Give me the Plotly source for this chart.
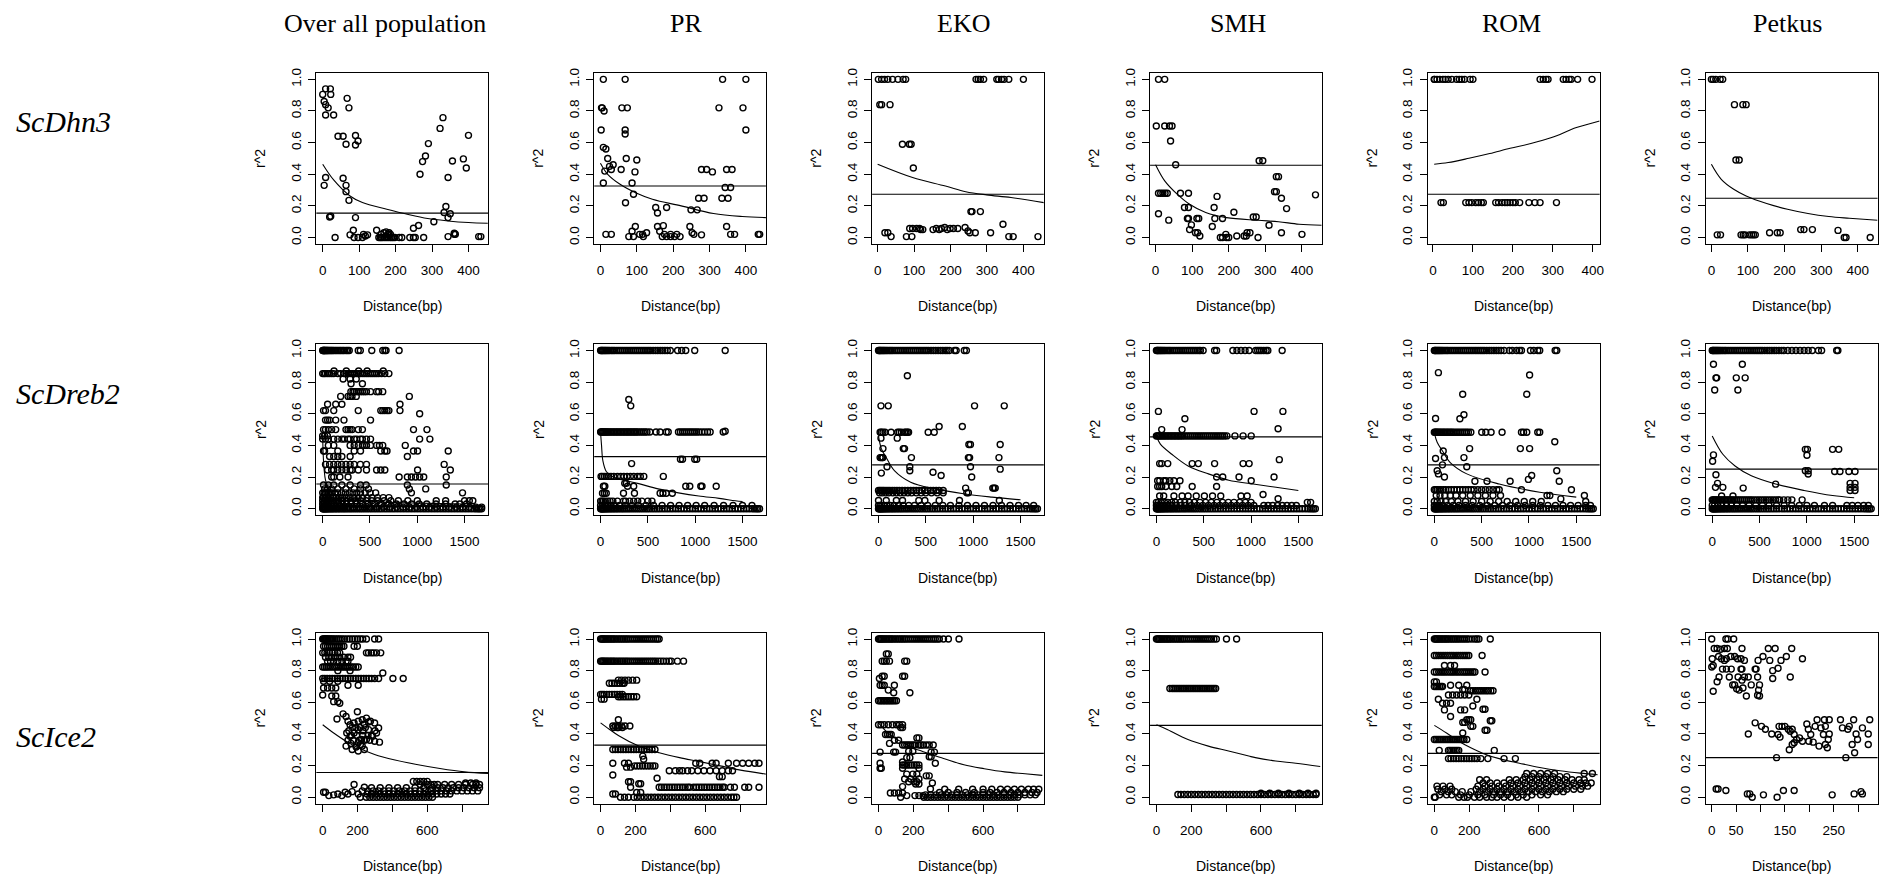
import plotly.graph_objects as go

# ---------------- layout constants (pixels in the 1899x882 canvas) ----------------
W, H = 1899, 882
COL_LEFT = [317, 595.5, 874, 1152.5, 1431, 1709.5]
ROW_TOP = [68.5, 341.5, 632]
BOX_W, BOX_H = 172, 172

COL_TITLES = ["Over all population", "PR", "EKO", "SMH", "ROM", "Petkus"]
COL_TITLE_X = [386, 687, 966, 1241, 1515, 1791]
ROW_LABELS = ["ScDhn3", "ScDreb2", "ScIce2"]
ROW_LABEL_Y = [117, 391, 737]

# ---------------- data: (r^2, [distances]) groups, curve x/y, horizontal line ----------------
LONG_ZERO = [0, 6, 12, 20, 28, 36, 45, 55, 66, 78, 90, 104, 118, 133, 148, 164, 180, 198, 216, 234, 252,
             272, 292, 312, 334, 356, 378, 400, 422, 446, 470, 494, 518, 544, 570, 596, 622, 650, 678, 706,
             734, 762, 792, 822, 852, 882, 912, 942, 972, 1002, 1032, 1062, 1092, 1122, 1152, 1182, 1212,
             1242, 1272, 1302, 1332, 1362, 1392, 1422, 1452, 1482, 1512, 1542, 1572, 1602, 1625, 1645,
             1662, 1680]

# ---- Row 1: ScDhn3 ----
dhn3_all = [(0.905, [0, 22]), (0.86, [4]), (0.84, [8]), (0.94, [8, 21]), (0.82, [15]), (0.775, [8, 30]),
            (0.33, [4, 64]), (0.38, [8, 344]), (0.13, [19]), (0.135, [22]),
            (0.0, [34, 86, 97, 109, 154, 158, 161, 165, 170, 175, 180, 185, 189, 193, 198, 210, 217, 239, 249, 254, 277]),
            (0.64, [42, 56]), (0.375, [56]), (0.59, [64]), (0.29, [64]), (0.235, [72]), (0.88, [67]), (0.82, [72]),
            (0.645, [90]), (0.585, [90]), (0.61, [97]), (0.126, [90, 344]), (0.017, [75, 123]), (0.046, [84, 148]),
            (0.02, [112, 160, 178, 181, 186, 361]), (0.03, [168, 182]), (0.01, [117]), (0.036, [174]),
            (0.059, [249]), (0.076, [263]), (0.40, [267]), (0.48, [274]), (0.515, [282]), (0.594, [290]),
            (0.10, [305]), (0.69, [322]), (0.758, [330]), (0.158, [333]), (0.196, [338]), (0.15, [350]),
            (0.484, [356]), (0.006, [344, 428, 434]), (0.027, [361]), (0.021, [364]), (0.497, [386]),
            (0.44, [394]), (0.646, [400])]
dhn3_all_cx = [0, 30, 75, 109, 176, 232, 288, 344, 400, 453]
dhn3_all_cy = [0.463, 0.364, 0.263, 0.221, 0.179, 0.147, 0.12, 0.105, 0.095, 0.09]
dhn3_all_h = 0.154

dhn3_pr = [(1.0, [8, 68, 336, 400]), (0.82, [3, 5, 59, 74, 326, 392]), (0.80, [10]), (0.68, [2, 68, 400]),
           (0.655, [68]), (0.57, [8]), (0.56, [15]), (0.50, [20, 71]), (0.49, [100]), (0.45, [25]),
           (0.43, [30, 57, 278, 292, 347, 362]), (0.46, [35]), (0.415, [95, 308]), (0.42, [12]),
           (0.345, [8, 87]), (0.316, [343, 358]), (0.274, [91]), (0.22, [69]), (0.248, [270, 285, 334, 351]),
           (0.19, [152, 182]), (0.155, [157]), (0.175, [249, 266]), (0.07, [96, 157, 246, 347]), (0.075, [173]),
           (0.04, [87, 163]), (0.006, [78, 91, 118, 170, 182, 193, 204, 219]),
           (0.02, [15, 30, 108, 116, 176, 193, 210, 257, 358, 369, 434, 438]), (0.03, [127, 252]), (0.017, [278])]
dhn3_pr_cx = [0, 20, 54, 100, 143, 222, 311, 390, 457]
dhn3_pr_cy = [0.47, 0.40, 0.337, 0.28, 0.242, 0.2, 0.152, 0.133, 0.126]
dhn3_pr_h = 0.326

dhn3_eko = [(1.0, [2, 11, 19, 28, 41, 56, 70, 77, 270, 276, 282, 291, 327, 332, 340, 347, 360, 400]),
            (0.84, [6, 11, 34]), (0.59, [68, 87, 92]), (0.44, [98]), (0.03, [20, 28, 253, 268, 310]),
            (0.006, [37, 79, 94, 360, 372, 440]), (0.057, [88, 96, 107, 115, 161, 175, 199, 208, 220]),
            (0.05, [118, 124, 152, 169, 191]), (0.063, [184, 240]), (0.042, [248]), (0.164, [256, 259, 282]),
            (0.084, [344])]
dhn3_eko_cx = [0, 96, 186, 242, 299, 366, 456]
dhn3_eko_cy = [0.463, 0.379, 0.326, 0.29, 0.27, 0.253, 0.221]
dhn3_eko_h = 0.274

dhn3_smh = [(1.0, [8, 25]), (0.705, [2, 25, 38, 45]), (0.61, [41]), (0.46, [55]), (0.28, [8, 14, 20, 26, 32, 68, 90]),
            (0.15, [8]), (0.11, [36]), (0.26, [168]), (0.19, [79, 90, 160]), (0.12, [87, 90, 113, 118, 162, 183]),
            (0.08, [98]), (0.05, [93]), (0.03, [109, 115, 250, 258, 344]), (0.01, [121, 222, 242, 248]),
            (0.07, [155]), (0.0, [177, 183, 194, 200, 280]), (0.02, [192, 400]), (0.16, [214]), (0.13, [267, 275]),
            (0.485, [283, 293]), (0.385, [330, 336]), (0.29, [325, 330]), (0.248, [344]), (0.183, [358]),
            (0.078, [310]), (0.27, [437])]
dhn3_smh_cx = [0, 25, 59, 93, 137, 194, 280, 336, 392, 454]
dhn3_smh_cy = [0.46, 0.358, 0.274, 0.21, 0.158, 0.126, 0.109, 0.10, 0.084, 0.078]
dhn3_smh_h = 0.457

dhn3_rom = [(1.0, [3, 4, 10, 17, 25, 31, 38, 47, 59, 66, 72, 79, 93, 100, 268, 276, 283, 288, 326, 333, 341, 346, 362, 398]),
            (0.221, [20, 26, 82, 90, 97, 107, 114, 121, 126, 157, 164, 173, 180, 186, 193, 200, 206, 217, 240, 255, 268, 309])]
dhn3_rom_cx = [3, 38, 90, 142, 193, 245, 297, 359, 417]
dhn3_rom_cy = [0.463, 0.474, 0.501, 0.531, 0.564, 0.594, 0.632, 0.695, 0.737]
dhn3_rom_h = 0.274

dhn3_pet = [(1.0, [0, 5, 12, 24, 31]), (0.84, [63, 86, 95]), (0.49, [67, 76]),
            (0.017, [16, 25, 81, 87, 92, 104, 110, 115, 120]), (0.03, [159, 180, 188]), (0.05, [244, 253, 276]),
            (0.045, [346]), (0.0, [363, 368, 434])]
dhn3_pet_cx = [0, 27, 61, 95, 151, 208, 264, 321, 377, 454]
dhn3_pet_cy = [0.463, 0.368, 0.305, 0.263, 0.215, 0.179, 0.152, 0.133, 0.122, 0.109]
dhn3_pet_h = 0.248

# ---- Row 2: ScDreb2 ----
dreb2_all = [(1.0, [0, 5, 10, 15, 20, 25, 30, 38, 45, 52, 60, 70, 80, 90, 100, 112, 125, 140, 155, 170, 185, 200, 215, 230, 250, 265, 281, 376, 398, 519, 635, 657, 670, 808]),
             (0.854, [0, 15, 30, 52, 73, 95, 117, 160, 190, 225, 246, 268, 290, 311, 333, 355, 376, 398, 420, 441, 463, 484, 506, 527, 549, 570, 592, 622, 657, 700]),
             (0.87, [120, 250, 380, 470, 640]), (0.82, [216, 290, 355]), (0.79, [300, 420]),
             (0.74, [298, 320, 333, 355, 376, 398, 420, 441, 463, 506, 570, 592, 635]),
             (0.71, [190, 268, 290, 310, 355, 916]), (0.66, [52, 138, 203, 817]),
             (0.62, [9, 30, 117, 376, 614, 635, 657, 680, 700, 817]), (0.60, [1025]),
             (0.56, [30, 52, 73, 138, 225, 506]),
             (0.5, [9, 30, 60, 95, 138, 246, 268, 290, 311, 376, 420, 960, 1102]), (0.46, [0, 20, 50]),
             (0.44, [0, 30, 60, 117, 160, 203, 230, 268, 290, 333, 360, 398, 420, 463, 506, 1025, 1133]),
             (0.40, [60, 117, 290, 333, 376, 420, 441, 463, 506, 570, 600, 635, 873]),
             (0.365, [9, 20, 160, 333, 400, 614, 657, 680, 960, 1003, 1327]),
             (0.33, [73, 117, 160, 203, 290, 895]),
             (0.28, [30, 73, 117, 160, 200, 246, 290, 333, 398, 463, 1284]),
             (0.245, [52, 95, 117, 160, 203, 246, 290, 311, 376, 463, 570, 614, 657, 1003, 1349]),
             (0.2, [95, 117, 182, 268, 808, 895, 938, 981, 1025, 1068, 1306]),
             (0.15, [9, 60, 117, 203, 290, 400, 460, 895, 1306]),
             (0.125, [20, 52, 95, 160, 246, 333, 400, 484, 916, 1089]),
             (0.1, [0, 15, 30, 45, 60, 80, 100, 130, 160, 200, 240, 280, 320, 360, 400, 450, 500, 560, 938, 1478]),
             (0.07, [0, 10, 25, 40, 60, 85, 110, 140, 175, 210, 250, 290, 330, 375, 420, 470, 520, 580, 640, 700]),
             (0.05, [0, 20, 45, 70, 100, 135, 170, 210, 250, 300, 350, 400, 460, 520, 580, 650, 720, 800, 900, 1000, 1200, 1300, 1500, 1550, 1587]),
             (0.03, [0, 15, 35, 60, 90, 120, 160, 200, 250, 300, 360, 420, 480, 550, 620, 700, 780, 860, 940, 1020, 1100, 1197, 1300, 1400, 1450, 1520]),
             (0.01, [0, 10, 25, 45, 70, 100, 135, 175, 220, 270, 320, 380, 440, 500, 570, 640, 710, 780, 850, 920, 990, 1060, 1130, 1200, 1270, 1340, 1410, 1480, 1550, 1620, 1680]),
             (0.0, LONG_ZERO)]
dreb2_all_cx = [0, 5, 15, 30, 60, 100, 200, 400, 700, 1000, 1500]
dreb2_all_cy = [0.47, 0.35, 0.25, 0.18, 0.13, 0.1, 0.07, 0.05, 0.04, 0.035, 0.03]
dreb2_all_h = 0.156

dreb2_pr = [(1.0, [0, 8, 16, 25, 35, 45, 55, 66, 78, 90, 105, 120, 135, 150, 170, 190, 210, 230, 250, 270, 290, 310, 330, 350, 370, 390, 410, 430, 450, 470, 490, 510, 530, 555, 580, 605, 630, 655, 680, 705, 737, 814, 857, 900, 995, 1317]),
            (0.485, [0, 8, 16, 25, 35, 45, 55, 66, 78, 90, 105, 120, 135, 150, 165, 180, 195, 210, 225, 240, 255, 270, 285, 300, 315, 330, 345, 360, 375, 390, 410, 430, 450, 470, 490, 521, 586, 629, 694, 715, 823, 844, 866, 887, 908, 930, 951, 972, 994, 1016, 1040, 1070, 1100, 1130, 1158, 1296]),
            (0.49, [1317]), (0.69, [298]), (0.65, [319]), (0.3125, [844, 866, 995, 1016]), (0.285, [328]),
            (0.204, [5, 20, 40, 60, 85, 110, 140, 178, 212, 246, 280, 315, 350, 390, 420, 457, 663]),
            (0.16, [255, 272]), (0.142, [30, 45, 285, 350, 900, 943, 1059, 1072, 1222]),
            (0.098, [20, 40, 60, 242, 358, 629, 659, 694, 758]),
            (0.048, [0, 15, 30, 50, 75, 100, 130, 178, 242, 264, 307, 350, 393, 436, 500, 543]),
            (0.02, [0, 20, 45, 75, 110, 150, 200, 260, 330, 400, 480, 560, 650, 740, 830, 920, 1010, 1100, 1200, 1300, 1400, 1500, 1600]),
            (0.0, LONG_ZERO)]
dreb2_pr_cx = [0, 10, 25, 60, 120, 178, 393, 608, 823, 1038, 1253, 1425, 1500]
dreb2_pr_cy = [0.48, 0.40, 0.30, 0.235, 0.205, 0.19, 0.16, 0.125, 0.1, 0.08, 0.065, 0.05, 0.045]
dreb2_pr_h = 0.329

dreb2_eko = [(1.0, [0, 8, 16, 25, 35, 45, 55, 66, 78, 90, 105, 120, 135, 150, 170, 190, 210, 230, 250, 270, 290, 310, 330, 350, 370, 390, 410, 430, 450, 470, 490, 510, 530, 555, 580, 605, 630, 655, 680, 705, 725, 748, 804, 821, 907, 929]),
             (0.84, [305]), (0.65, [26, 103, 1015, 1329]), (0.52, [641, 886]),
             (0.483, [17, 30, 47, 69, 133, 202, 219, 241, 275, 290, 305, 318, 525, 589]), (0.446, [26, 198]),
             (0.406, [955, 972, 1286]), (0.38, [47, 262, 275]), (0.323, [17, 30, 39, 47, 348, 950, 963, 1273]),
             (0.265, [90, 331, 972]), (0.25, [1286]), (0.225, [30]), (0.24, [331]), (0.23, [576]), (0.21, [662]),
             (0.2, [985]),
             (0.115, [0, 15, 30, 45, 60, 80, 100, 120, 145, 170, 195, 220, 250, 280, 310, 340, 370, 400, 430, 460, 490, 520, 550, 580, 610, 640, 684]),
             (0.13, [921, 1208, 1221, 1234]),
             (0.1, [10, 40, 75, 110, 150, 190, 230, 270, 310, 350, 400, 450, 500, 560, 620, 684, 933, 950]),
             (0.052, [0, 82, 189, 254, 426, 490, 641, 856, 1277]),
             (0.02, [0, 15, 35, 60, 90, 125, 165, 210, 260, 320, 380, 450, 520, 600, 680, 760, 850, 940, 1030, 1120, 1210, 1300, 1390, 1480, 1560, 1640]),
             (0.0, LONG_ZERO)]
dreb2_eko_cx = [0, 30, 82, 168, 340, 598, 899, 1200, 1501]
dreb2_eko_cy = [0.46, 0.38, 0.323, 0.24, 0.167, 0.125, 0.094, 0.073, 0.056]
dreb2_eko_h = 0.277

dreb2_smh = [(1.0, [0, 8, 16, 25, 35, 45, 55, 66, 78, 90, 105, 120, 135, 150, 170, 190, 210, 230, 250, 270, 290, 310, 330, 350, 370, 390, 410, 430, 450, 465, 494, 615, 636, 808, 851, 894, 937, 980, 1049, 1070, 1090, 1110, 1135, 1160, 1178, 1329]),
             (0.615, [21, 1032, 1337]), (0.569, [301]), (0.5, [56, 271]), (0.505, [1286]),
             (0.46, [0, 10, 20, 32, 45, 58, 72, 86, 100, 115, 130, 145, 160, 175, 190, 205, 220, 235, 250, 265, 280, 300, 320, 340, 360, 380, 400, 420, 440, 460, 480, 500, 520, 540, 560, 580, 600, 620, 640, 660, 680, 700, 720, 744, 830, 916, 1002]),
             (0.285, [34, 56, 120, 378, 443, 615, 916, 980]), (0.31, [1299]), (0.2, [636, 701, 873, 1243]),
             (0.177, [13, 35, 77, 100, 142, 185, 249, 1002]), (0.14, [13, 34, 56, 99, 163, 215, 378, 636]),
             (0.08, [34, 77, 185, 271, 335, 421, 507, 593, 680, 894, 959]), (0.09, [1127]), (0.0625, [1286]),
             (0.04, [0, 20, 50, 85, 120, 160, 200, 250, 300, 350, 400, 460, 520, 580, 640, 700, 760, 820, 880, 940, 1000, 1595, 1630]),
             (0.02, [0, 15, 35, 60, 90, 125, 165, 210, 260, 310, 370, 430, 490, 550, 610, 670, 730, 790, 850, 910, 970, 1030, 1135, 1180, 1230, 1280, 1330, 1380, 1430, 1479]),
             (0.0, LONG_ZERO)]
dreb2_smh_cx = [0, 40, 163, 335, 550, 765, 1023, 1264, 1500]
dreb2_smh_cy = [0.46, 0.41, 0.344, 0.27, 0.22, 0.18, 0.156, 0.135, 0.115]
dreb2_smh_h = 0.454

dreb2_rom = [(1.0, [0, 8, 16, 25, 35, 45, 55, 66, 78, 90, 105, 120, 135, 150, 170, 190, 210, 230, 250, 270, 290, 310, 330, 350, 370, 390, 410, 430, 450, 470, 490, 510, 530, 555, 580, 605, 630, 655, 680, 705, 737, 793, 823, 870, 900, 921, 1016, 1050, 1093, 1114, 1277, 1294]),
             (0.86, [43]), (0.845, [1007]), (0.723, [300, 977]), (0.594, [313]), (0.569, [270]), (0.57, [13]),
             (0.483, [0, 10, 20, 30, 42, 55, 68, 82, 96, 110, 125, 140, 155, 170, 185, 200, 220, 240, 260, 280, 300, 320, 340, 360, 386, 501, 544, 600, 716, 921, 943, 977, 1093, 1114]),
             (0.423, [1273]), (0.38, [373, 909, 1007]), (0.365, [94]), (0.323, [107, 313]), (0.317, [13]),
             (0.277, [86]), (0.265, [343]), (0.24, [30, 1294]), (0.22, [43]), (0.2, [107]), (0.21, [1029]),
             (0.185, [994]), (0.173, [429, 557, 801, 1320]),
             (0.12, [0, 15, 30, 50, 70, 95, 120, 150, 180, 210, 240, 270, 300, 330, 360, 390, 420, 460, 500, 540, 580, 620, 660, 686, 921, 1449]),
             (0.083, [20, 60, 110, 170, 230, 300, 380, 460, 540, 620, 700, 1191, 1221, 1586]), (0.062, [1337]),
             (0.045, [0, 30, 70, 120, 180, 250, 330, 410, 500, 590, 680, 770, 860, 950, 1040, 1130, 1600]),
             (0.02, [0, 20, 50, 90, 140, 200, 260, 330, 400, 480, 560, 640, 720, 800, 880, 960, 1040, 1120, 1200, 1280, 1360, 1440, 1520, 1600, 1650]),
             (0.0, LONG_ZERO)]
dreb2_rom_cx = [0, 30, 86, 171, 343, 686, 1114, 1500]
dreb2_rom_cy = [0.48, 0.42, 0.365, 0.29, 0.22, 0.156, 0.104, 0.073]
dreb2_rom_h = 0.277

dreb2_pet = [(1.0, [0, 8, 16, 25, 35, 45, 55, 66, 78, 90, 105, 120, 135, 150, 170, 190, 210, 230, 250, 270, 290, 310, 330, 350, 370, 390, 410, 430, 450, 470, 490, 510, 530, 555, 580, 605, 630, 655, 680, 705, 730, 756, 799, 842, 885, 928, 971, 1014, 1057, 1122, 1156, 1315, 1328]),
             (0.913, [13, 318]), (0.827, [39, 47, 254, 348]), (0.75, [26, 271]), (0.375, [984, 1006, 1272, 1337]),
             (0.338, [1001]), (0.34, [13]), (0.3, [4]), (0.24, [984, 1014]), (0.219, [1014]),
             (0.235, [1294, 1350, 1444, 1509]), (0.16, [56, 1457, 1509]), (0.135, [34, 112, 1457, 1509]),
             (0.115, [1457, 1509]), (0.215, [39]), (0.13, [327]), (0.155, [670]), (0.08, [99, 219]),
             (0.056, [0, 10, 20, 32, 45, 58, 72, 86, 100, 115, 130, 145, 160, 175, 190, 205, 220, 240, 260, 280, 300, 320, 340, 360, 380, 400, 420, 445, 470, 495, 520, 545, 570, 595, 620, 645, 670, 695, 713, 756, 799, 842, 950]),
             (0.02, [0, 25, 60, 100, 150, 200, 260, 320, 390, 460, 530, 600, 680, 760, 840, 920, 1000, 1080, 1186, 1272, 1423, 1480, 1540, 1600, 1650]),
             (0.0, LONG_ZERO)]
dreb2_pet_cx = [0, 112, 241, 413, 670, 971, 1272, 1500]
dreb2_pet_cy = [0.46, 0.344, 0.27, 0.208, 0.156, 0.115, 0.083, 0.069]
dreb2_pet_h = 0.25

# ---- Row 3: ScIce2 ----
ice2_all = [(1.0, [0, 5, 10, 15, 20, 25, 30, 38, 45, 52, 60, 70, 80, 90, 100, 112, 125, 140, 155, 170, 185, 200, 215, 230, 251, 298, 321]),
            (0.954, [5, 16, 28, 40, 52, 63, 75, 87, 98, 110, 122, 180, 199]),
            (0.9125, [0, 12, 25, 40, 55, 70, 85, 98, 251, 263, 279, 293, 309, 333]),
            (0.885, [16, 35, 52, 75, 98, 122, 145, 160]), (0.86, [28, 45, 63, 87, 110, 134, 145]),
            (0.823, [0, 10, 20, 30, 42, 55, 68, 80, 92, 105, 117, 129, 140, 152, 164, 176, 190, 204]),
            (0.8, [87, 157]), (0.785, [345]),
            (0.75, [0, 12, 25, 40, 55, 70, 85, 100, 115, 130, 145, 160, 175, 190, 205, 220, 235, 250, 265, 280, 298, 321, 403, 462]),
            (0.733, [5, 40, 87]), (0.708, [145, 204]), (0.69, [5, 28, 52, 75]), (0.646, [0]), (0.64, [52, 75]),
            (0.604, [63, 87]), (0.594, [98]),
            (0.494, [82]), (0.527, [117]), (0.51, [134]), (0.48, [145, 204, 274]), (0.54, [199]), (0.458, [157]),
            (0.469, [180, 298]), (0.49, [227]), (0.5, [251]), (0.4375, [321]), (0.406, [138, 180, 309]),
            (0.385, [157, 286]), (0.427, [204, 263]), (0.365, [223, 251]), (0.323, [134, 227]), (0.302, [169, 239]),
            (0.344, [204]), (0.354, [298]), (0.348, [326]), (0.292, [204]), (0.333, [216]), (0.317, [192]),
            (0.34, [162]), (0.4625, [239]), (0.475, [263]), (0.44, [170, 190, 215, 245]),
            (0.39, [165, 195, 230, 260, 280]), (0.36, [145, 175, 210, 240, 270]), (0.42, [150, 230, 300]),
            (0.031, [5, 16, 129]), (0.01, [35, 110]), (0.015, [63]), (0.02, [87, 145, 204]), (0.035, [169]),
            (0.08, [180]), (0.04, [227]), (0.0625, [239]),
            (0.0, [216, 250, 270, 290, 310, 330, 350, 370, 390, 410, 430, 450, 470, 490, 510, 530, 550, 570, 590, 610, 630]),
            (0.02, [255, 280, 305, 330, 355, 380, 405, 430, 455, 480, 505, 530, 555, 580, 605, 630, 655, 680, 705, 730]),
            (0.04, [260, 290, 320, 350, 380, 410, 440, 470, 500, 530, 560, 590, 620, 650, 680, 710, 740, 770, 800, 830, 860, 890]),
            (0.06, [280, 330, 380, 430, 480, 530, 580, 630, 660, 690, 720, 750, 780, 810, 840, 870, 900]),
            (0.08, [560, 600, 620, 640, 660, 700, 740, 780, 820, 860, 880, 900]),
            (0.1, [520, 540, 560, 580, 600]), (0.09, [820, 850, 880])]
ice2_all_cx = [0, 63, 134, 204, 298, 415, 532, 673, 813, 954]
ice2_all_cy = [0.458, 0.406, 0.354, 0.3125, 0.27, 0.235, 0.208, 0.181, 0.16, 0.15]
ice2_all_h = 0.156

ice2_pr = [(1.0, [0, 6, 12, 18, 25, 32, 40, 48, 56, 64, 72, 80, 90, 100, 110, 120, 130, 140, 150, 160, 172, 184, 196, 208, 220, 232, 244, 256, 268, 280, 292, 304, 316, 326, 336]),
           (0.86, [0, 6, 12, 18, 25, 32, 40, 48, 56, 64, 72, 80, 90, 100, 110, 120, 130, 140, 150, 160, 172, 184, 196, 208, 220, 232, 244, 256, 268, 280, 292, 304, 316, 330, 345, 360, 377, 394, 406, 441, 476]),
           (0.74, [102, 120, 140, 160, 184, 207]), (0.72, [50, 65, 80, 95, 110, 125, 135]),
           (0.635, [102, 115, 130, 145, 160, 175, 190, 207]), (0.65, [0, 10, 20, 35, 50, 65, 80, 95, 110, 125]),
           (0.62, [5, 20]), (0.45, [70, 85, 100, 120, 140, 168]), (0.44, [75, 95, 102, 125]), (0.49, [102]),
           (0.302, [70, 85, 100, 115, 130, 145, 160, 175, 190, 205, 220, 235, 250, 265, 280, 295, 312]),
           (0.26, [242]), (0.24, [247]),
           (0.215, [70, 137, 160, 546, 569, 640, 663, 733, 780, 815, 850, 885, 909]),
           (0.198, [195, 210, 225, 240, 255, 270, 285, 300, 312]), (0.19, [149, 172]),
           (0.167, [394, 429, 453, 471, 499, 523, 558, 593, 628, 663, 698, 733, 757]),
           (0.13, [682, 698]), (0.12, [324]), (0.14, [70]), (0.098, [160, 172]), (0.085, [219, 230]),
           (0.0625, [172, 336, 350, 365, 380, 395, 410, 425, 440, 455, 470, 485, 500, 511, 534, 550, 565, 580, 595, 610, 625, 640, 655, 670, 685, 700, 710, 745, 768, 827, 850, 909]),
           (0.03, [207, 230]), (0.02, [70, 85]),
           (0.0, [114, 137, 160, 190, 210, 230, 250, 270, 290, 310, 330, 350, 370, 390, 410, 430, 450, 470, 490, 510, 530, 550, 570, 590, 610, 630, 650, 670, 690, 710, 730, 750, 765, 780])]
ice2_pr_cx = [0, 50, 102, 219, 336, 453, 569, 686, 803, 948]
ice2_pr_cy = [0.47, 0.43, 0.39, 0.323, 0.281, 0.25, 0.225, 0.198, 0.171, 0.146]
ice2_pr_h = 0.329

ice2_eko = [(1.0, [0, 6, 12, 18, 25, 32, 40, 48, 56, 64, 72, 80, 90, 100, 110, 120, 130, 140, 150, 160, 172, 184, 196, 208, 220, 232, 244, 256, 268, 280, 292, 304, 316, 326, 338, 349, 373, 401, 462]),
            (0.906, [45, 56]), (0.86, [21, 33, 45, 63, 150, 162]), (0.765, [21, 33, 138, 150]), (0.75, [5]),
            (0.708, [9, 21, 33, 91]), (0.677, [56]), (0.66, [87, 180]),
            (0.61, [0, 9, 18, 27, 36, 45, 54, 63, 72, 82, 92, 103]),
            (0.458, [0, 14, 33, 56, 80, 103, 120, 138]), (0.44, [127, 138]), (0.396, [40, 52, 63, 73]),
            (0.36, [91, 115]), (0.34, [63]),
            (0.33, [138, 150, 162, 173, 185, 197, 209, 232, 244, 256, 274, 291, 314]), (0.375, [220, 232]),
            (0.285, [9, 87, 98, 302, 321]), (0.29, [173, 197]), (0.25, [162, 180]), (0.256, [291, 302]),
            (0.223, [138]), (0.215, [9, 326]), (0.204, [138, 150, 162, 175, 190, 205, 218, 232]),
            (0.183, [9, 16, 138, 232]), (0.146, [162, 197, 220]), (0.135, [274, 291]), (0.115, [150, 185, 232]),
            (0.098, [173, 204, 220]), (0.09, [309]), (0.083, [213, 232]), (0.067, [138]), (0.052, [298]),
            (0.027, [68, 91, 115, 138]), (0.01, [162, 209, 232, 256]),
            (0.0, [127, 260, 280, 300, 320, 340, 360, 380, 400, 420, 440, 460, 480, 500, 520, 540, 560, 580, 600, 620, 640, 660, 680, 700, 720, 740, 760, 780, 800]),
            (0.015, [270, 300, 330, 360, 390, 420, 450, 480, 510, 540, 570, 600, 630, 660, 690, 720, 750, 780, 810, 840, 870, 900]),
            (0.03, [350, 400, 450, 500, 550, 600, 640, 680, 720, 760, 800, 840, 880, 910]),
            (0.05, [380, 460, 540, 600, 650, 700, 740, 780, 820, 860, 890, 920])]
ice2_eko_cx = [0, 50, 100, 150, 200, 250, 300, 373, 490, 607, 724, 841, 940]
ice2_eko_cy = [0.47, 0.41, 0.37, 0.34, 0.31, 0.29, 0.27, 0.245, 0.205, 0.18, 0.16, 0.148, 0.138]
ice2_eko_h = 0.277

ice2_smh = [(1.0, [0, 6, 12, 18, 25, 32, 40, 48, 56, 64, 72, 80, 90, 100, 110, 120, 130, 140, 150, 160, 172, 184, 196, 208, 220, 232, 244, 256, 268, 280, 292, 304, 316, 330, 344, 402, 460]),
            (0.6875, [77, 90, 100, 110, 120, 130, 140, 150, 160, 170, 180, 190, 200, 210, 220, 230, 240, 250, 260, 270, 280, 290, 300, 310, 320, 330, 340]),
            (0.017, [123, 140, 160, 180, 200, 220, 240, 260, 280, 300, 320, 340, 360, 380, 400, 420, 440, 460, 480, 500, 520, 540, 560, 580, 600, 620, 640, 660, 680, 700, 720, 740, 760, 780, 800, 820, 840, 860, 880, 900, 916]),
            (0.025, [600, 650, 700, 760, 820, 870, 916])]
ice2_smh_cx = [0, 65, 181, 298, 414, 530, 568, 684, 800, 940]
ice2_smh_cy = [0.458, 0.427, 0.365, 0.323, 0.292, 0.26, 0.25, 0.229, 0.215, 0.194]
ice2_smh_h = 0.454

ice2_rom = [(1.0, [0, 6, 12, 18, 25, 32, 40, 48, 56, 64, 72, 80, 90, 100, 110, 120, 130, 140, 151, 163, 174, 186, 198, 216, 233, 244, 256, 321]),
            (0.896, [0, 12, 25, 38, 50, 62, 75, 88, 100, 112, 125, 137, 150, 163, 175, 186, 198, 274]),
            (0.833, [58, 93, 116]),
            (0.792, [0, 12, 25, 38, 50, 62, 75, 88, 100, 112, 125, 137, 150, 163, 175, 186, 198, 210, 222, 233, 291]),
            (0.729, [0, 12]), (0.7, [0, 10, 20, 30, 40, 47]), (0.708, [93, 140, 186]),
            (0.673, [209, 222, 235, 248, 260, 272, 285, 298, 310, 324, 337]), (0.68, [163, 174]),
            (0.646, [81, 105, 128, 151, 174, 198]), (0.594, [47, 70, 93]), (0.619, [23, 244]), (0.577, [221]),
            (0.552, [58, 151, 174]), (0.556, [279, 291]), (0.51, [93]), (0.49, [186, 198, 209]),
            (0.473, [163, 174]), (0.448, [209, 221]), (0.483, [321, 330]), (0.423, [291, 302]), (0.406, [163]),
            (0.365, [0, 10, 20, 30, 40, 50, 60, 70, 80, 90, 100, 110, 120, 130, 140, 150, 160, 170, 186]),
            (0.296, [28, 81, 90, 100, 110, 120, 130, 140, 344]),
            (0.244, [81, 95, 110, 125, 140, 155, 170, 185, 200, 215, 230, 245, 267, 307, 400, 465]),
            (0.0, [0, 5, 140, 170, 190, 230, 260, 300, 330, 360, 400, 440, 480, 530]),
            (0.015, [30, 70, 100, 150, 200, 250, 290, 340, 380, 420, 470, 510, 560, 610, 650]),
            (0.035, [40, 80, 120, 160, 210, 260, 300, 340, 380, 420, 460, 500, 540, 580, 620, 660, 700, 740]),
            (0.05, [20, 60, 100, 240, 280, 320, 360, 400, 440, 480, 520, 560, 600, 640, 680, 720, 760, 800, 840]),
            (0.07, [15, 50, 90, 250, 290, 330, 370, 410, 450, 490, 530, 570, 610, 650, 690, 730, 770, 810, 850, 880]),
            (0.09, [280, 320, 360, 400, 440, 480, 520, 560, 600, 640, 680, 720, 760, 800, 840, 870, 900]),
            (0.11, [260, 300, 430, 470, 510, 550, 590, 630, 670, 710, 750, 790, 830, 860]),
            (0.13, [520, 560, 600, 640, 680, 720, 760]), (0.15, [530, 570, 610, 650, 690, 860, 907])]
ice2_rom_cx = [0, 70, 140, 209, 279, 372, 488, 605, 721, 837, 937]
ice2_rom_cy = [0.454, 0.406, 0.354, 0.3125, 0.277, 0.244, 0.215, 0.1875, 0.167, 0.152, 0.142]
ice2_rom_h = 0.277

ice2_pet = [(1.0, [0, 29, 33, 45]), (0.875, [1, 20, 30, 53, 60, 186]), (0.833, [3]), (0.823, [0]),
            (0.94, [5, 11, 26, 32, 62, 116, 130, 164]), (0.935, [18]), (0.89, [14, 39, 47, 105, 153]),
            (0.865, [26, 67, 95, 119, 142]), (0.81, [22, 30, 40, 60, 62, 89, 91]), (0.67, [3]), (0.73, [11]),
            (0.76, [15, 36, 54, 67, 75, 94, 161]), (0.71, [43, 47, 81, 98]), (0.685, [51]), (0.677, [56, 96]),
            (0.74, [62]), (0.69, [64]), (0.64, [71, 98]), (0.645, [94]), (0.4, [75, 123, 241, 296, 321]),
            (0.47, [89]), (0.8, [125]), (0.815, [136]), (0.75, [125]), (0.448, [102, 138, 144, 150, 212, 233, 282]),
            (0.43, [110, 157, 165, 198, 279]), (0.396, [136, 169, 203, 229]), (0.38, [140]), (0.417, [161]),
            (0.365, [174, 239, 299]), (0.375, [180]), (0.354, [186, 199]), (0.3, [159]), (0.333, [165, 233, 288, 321]),
            (0.344, [169]), (0.25, [133, 275]), (0.4625, [195]), (0.348, [208]), (0.49, [216, 231, 241, 264, 291, 324]),
            (0.323, [220]), (0.438, [224, 268, 309]), (0.3125, [237]), (0.281, [293]),
            (0.052, [9, 13]), (0.042, [29, 147, 169]), (0.021, [73, 78, 292, 309]), (0.0, [83, 134]),
            (0.015, [106, 247]), (0.035, [306])]
ice2_pet_cx = []
ice2_pet_cy = []
ice2_pet_h = 0.25

PANELS = [
    [(dhn3_all, dhn3_all_cx, dhn3_all_cy, dhn3_all_h), (dhn3_pr, dhn3_pr_cx, dhn3_pr_cy, dhn3_pr_h),
     (dhn3_eko, dhn3_eko_cx, dhn3_eko_cy, dhn3_eko_h), (dhn3_smh, dhn3_smh_cx, dhn3_smh_cy, dhn3_smh_h),
     (dhn3_rom, dhn3_rom_cx, dhn3_rom_cy, dhn3_rom_h), (dhn3_pet, dhn3_pet_cx, dhn3_pet_cy, dhn3_pet_h)],
    [(dreb2_all, dreb2_all_cx, dreb2_all_cy, dreb2_all_h), (dreb2_pr, dreb2_pr_cx, dreb2_pr_cy, dreb2_pr_h),
     (dreb2_eko, dreb2_eko_cx, dreb2_eko_cy, dreb2_eko_h), (dreb2_smh, dreb2_smh_cx, dreb2_smh_cy, dreb2_smh_h),
     (dreb2_rom, dreb2_rom_cx, dreb2_rom_cy, dreb2_rom_h), (dreb2_pet, dreb2_pet_cx, dreb2_pet_cy, dreb2_pet_h)],
    [(ice2_all, ice2_all_cx, ice2_all_cy, ice2_all_h), (ice2_pr, ice2_pr_cx, ice2_pr_cy, ice2_pr_h),
     (ice2_eko, ice2_eko_cx, ice2_eko_cy, ice2_eko_h), (ice2_smh, ice2_smh_cx, ice2_smh_cy, ice2_smh_h),
     (ice2_rom, ice2_rom_cx, ice2_rom_cy, ice2_rom_h), (ice2_pet, ice2_pet_cx, ice2_pet_cy, ice2_pet_h)],
]

X_RANGES = [
    [[-17.5, 453.5], [-17, 455], [-15, 456], [-15, 454], [-12.5, 417], [-15, 454]],
    [[-67, 1747]] * 6,
    [[-36.5, 948.5]] * 5 + [[-12, 340]],
]
ROW_TICKS = [
    ([0, 100, 200, 300, 400], ["0", "100", "200", "300", "400"]),
    ([0, 500, 1000, 1500], ["0", "500", "1000", "1500"]),
    ([0, 200, 400, 600, 800], ["0", "200", "", "600", ""]),
]
PET_ROW3_TICKS = ([0, 50, 100, 150, 200, 250, 300], ["0", "50", "", "150", "", "250", ""])
Y_TICKS = [0, 0.2, 0.4, 0.6, 0.8, 1.0]
Y_TEXT = ["0.0", "0.2", "0.4", "0.6", "0.8", "1.0"]

SANS = "Liberation Sans, Arial, sans-serif"
SERIF = "Liberation Serif, Times New Roman, serif"

fig = go.Figure()
layout = dict(width=W, height=H, margin=dict(l=0, r=0, t=0, b=0), paper_bgcolor="white",
              plot_bgcolor="white", showlegend=False)
shapes, annotations = [], []

for r in range(3):
    for c in range(6):
        n = r * 6 + c + 1
        sfx = "" if n == 1 else str(n)
        groups, cx, cy, hval = PANELS[r][c]
        xs, ys = [], []
        for yv, xl in groups:
            for xv in xl:
                xs.append(xv)
                ys.append(yv)
        fig.add_trace(go.Scatter(x=xs, y=ys, mode="markers", xaxis="x" + sfx, yaxis="y" + sfx,
                                 marker=dict(symbol="circle-open", size=6, color="black",
                                             line=dict(width=1.4, color="black")),
                                 hoverinfo="skip"))
        if cx:
            fig.add_trace(go.Scatter(x=cx, y=cy, mode="lines", xaxis="x" + sfx, yaxis="y" + sfx,
                                     line=dict(color="black", width=1.1), line_shape="spline",
                                     hoverinfo="skip"))
        shapes.append(dict(type="line", xref="x" + sfx + " domain", yref="y" + sfx, x0=0, x1=1,
                           y0=hval, y1=hval, line=dict(color="black", width=1.1)))

        left = COL_LEFT[c]
        top = ROW_TOP[r]
        xd = [left / W, (left + BOX_W) / W]
        yd = [1 - (top + BOX_H) / H, 1 - top / H]
        if r == 2 and c == 5:
            tv, tt = PET_ROW3_TICKS
        else:
            tv, tt = ROW_TICKS[r]
        common = dict(showgrid=False, zeroline=False, showline=True, mirror=True, linecolor="black",
                      linewidth=1.2, ticks="outside", ticklen=7, tickwidth=1, tickcolor="black",
                      tickfont=dict(family=SANS, size=13.5, color="black"), fixedrange=True)
        layout["xaxis" + sfx] = dict(domain=xd, range=X_RANGES[r][c], anchor="y" + sfx,
                                     tickmode="array", tickvals=tv, ticktext=tt,
                                     ticklabelstandoff=7, **common)
        layout["yaxis" + sfx] = dict(domain=yd, range=[-0.04, 1.04], anchor="x" + sfx,
                                     tickmode="array", tickvals=Y_TICKS, ticktext=Y_TEXT,
                                     tickangle=-90, ticklabelstandoff=2, **common)
        annotations.append(dict(text="r^2", x=(left - 56) / W, y=1 - (top + BOX_H / 2) / H,
                                xref="paper", yref="paper", showarrow=False, textangle=-90,
                                xanchor="center", yanchor="middle",
                                font=dict(family=SANS, size=14, color="black")))
        annotations.append(dict(text="Distance(bp)", x=(left + BOX_W / 2) / W, y=1 - (top + BOX_H + 63) / H,
                                xref="paper", yref="paper", showarrow=False,
                                xanchor="center", yanchor="middle",
                                font=dict(family=SANS, size=14, color="black")))

for c in range(6):
    annotations.append(dict(text=COL_TITLES[c], x=COL_TITLE_X[c] / W, y=1 - 19 / H, xref="paper",
                            yref="paper", showarrow=False, xanchor="center", yanchor="middle",
                            font=dict(family=SERIF, size=26, color="black")))
for r in range(3):
    annotations.append(dict(text="<i>" + ROW_LABELS[r] + "</i>", x=14 / W, y=1 - ROW_LABEL_Y[r] / H,
                            xref="paper", yref="paper", showarrow=False, xanchor="left", yanchor="middle",
                            font=dict(family=SERIF, size=30, color="black")))

layout["shapes"] = shapes
layout["annotations"] = annotations
fig.update_layout(**layout)
fig.write_html("out.html")
